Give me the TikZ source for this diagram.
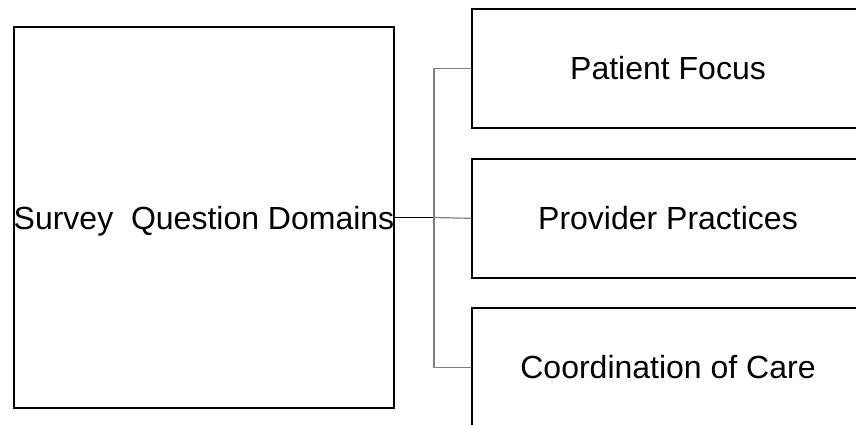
\documentclass[tikz,border=0pt]{standalone}
\usepackage{fontspec}
\setmainfont{Liberation Sans}
\definecolor{linkgray}{HTML}{808080}
\begin{document}
\begin{tikzpicture}[x=1pt,y=-1pt,
  box/.style={draw=black, line width=2pt, rectangle, inner sep=0pt,
    font=\fontsize{32}{38}\selectfont, text height=23pt, text depth=0pt},
  rootbox/.style={box, minimum width=380pt, minimum height=381pt},
  leafbox/.style={box, minimum width=392pt, minimum height=118.6pt},
  stem/.style={draw=black, line width=1.2pt},
  branch/.style={draw=linkgray, line width=1.2pt}]
  \useasboundingbox (0,0) rectangle (856,424);

  % root box on the left
  \node[rootbox] (root) at (204,217.5) {Survey~ Question Domains};

  % three domain boxes on the right (their right side runs past the edge)
  \node[leafbox] (pf) at (668,68.3) {Patient Focus};
  \node[leafbox] (pp) at (668,218.3) {Provider Practices};
  \node[leafbox] (cc) at (668,367.3) {Coordination of Care};

  % bracket connector
  \coordinate (jn) at (434,217.5);
  \draw[stem] (root.east) -- (jn);
  \draw[branch] (jn) |- (pf.west);
  \draw[branch] (jn) -- (pp.west);
  \draw[branch] (jn) |- (cc.west);
\end{tikzpicture}
\end{document}
